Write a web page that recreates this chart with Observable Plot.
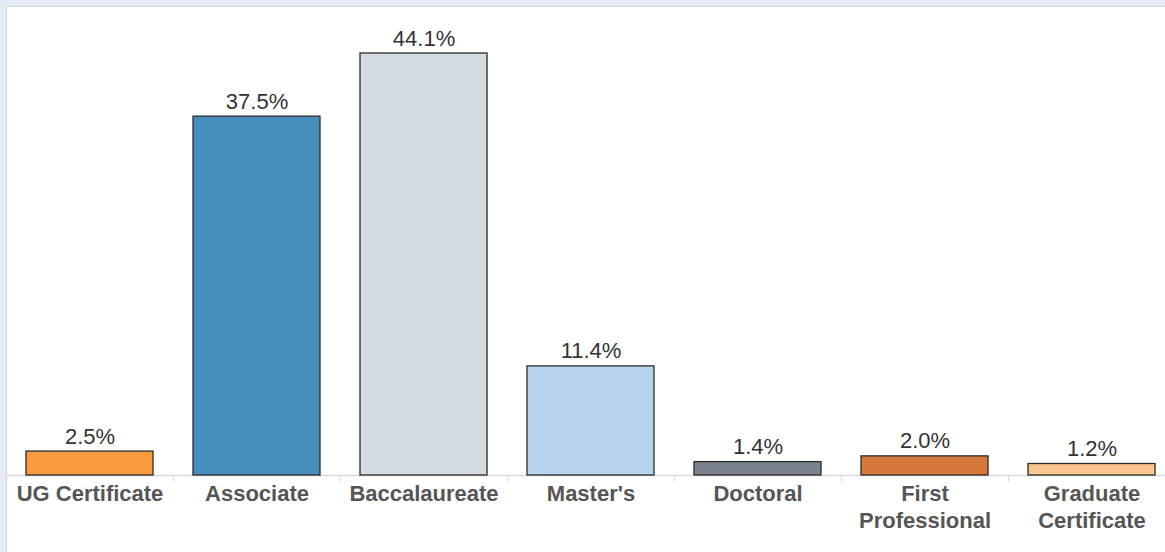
<!DOCTYPE html>
<html>
<head>
<meta charset="utf-8">
<script src="https://cdn.jsdelivr.net/npm/d3@7"></script>
<script src="https://cdn.jsdelivr.net/npm/@observablehq/plot@0.6"></script>
<style>
  html, body { margin: 0; padding: 0; width: 1165px; height: 552px; overflow: hidden; background: #e4ebf5; }
  #frame { position: absolute; left: 6px; top: 6px; width: 1200px; height: 600px; background: #fff; border-left: 1px solid #d3d6da; border-top: 1px solid #d3d6da; }
  #chart { position: absolute; left: 0; top: 0; width: 1175px; }
  #chart svg { max-width: none !important; }
</style>
</head>
<body>
<div id="frame"></div>
<div id="chart"></div>
<script>
const categories = ["UG Certificate", "Associate", "Baccalaureate", "Master's", "Doctoral", "First Professional", "Graduate Certificate"];
const tickLabels = ["UG Certificate", "Associate", "Baccalaureate", "Master's", "Doctoral", "First\nProfessional", "Graduate\nCertificate"];
const shares = [2.5, 37.5, 44.1, 11.4, 1.4, 2.0, 1.2];
const barColors = ["#fd9a40", "#468fbd", "#d3dbe3", "#b6d4ec", "#7a828e", "#d6773b", "#fdc690"];

const data = categories.map((c, i) => ({category: c, share: shares[i]}));

const W = 1175, marginLeft = 6, marginRight = 0;
const step = (W - marginLeft - marginRight) / categories.length;

const chart = Plot.plot({
  width: W,
  height: 552,
  marginLeft,
  marginRight,
  marginTop: 53,
  marginBottom: 77,
  style: {background: "transparent", fontFamily: "'Liberation Sans', Arial, sans-serif", overflow: "visible", maxWidth: "none"},
  x: {domain: categories, paddingInner: 0.24, paddingOuter: 0.12, label: null},
  y: {domain: [0, d3.max(shares)], axis: null},
  color: {domain: categories, range: barColors},
  marks: [
    Plot.ruleY([0], {stroke: "#d9d9d9", strokeWidth: 1.5}),
    Plot.barY(data, {x: "category", y: "share", fill: "category", stroke: "#2a2a2a", strokeWidth: 1.3}),
    Plot.text(data, {x: "category", y: "share", text: d => d.share.toFixed(1) + "%", lineAnchor: "bottom", dy: -8, fontSize: 22, fill: "#333"}),
    Plot.axisX({tickSize: 0, tickPadding: 7, tickFormat: d => tickLabels[categories.indexOf(d)], fontSize: 22, fontWeight: "bold", fill: "#555", lineHeight: 1.2, label: null}),
    Plot.axisX({ticks: categories.slice(0, -1), tickSize: 7, tickFormat: () => "", dx: step / 2, stroke: "#d9d9d9", label: null})
  ]
});
document.getElementById("chart").appendChild(chart);
</script>
</body>
</html>
